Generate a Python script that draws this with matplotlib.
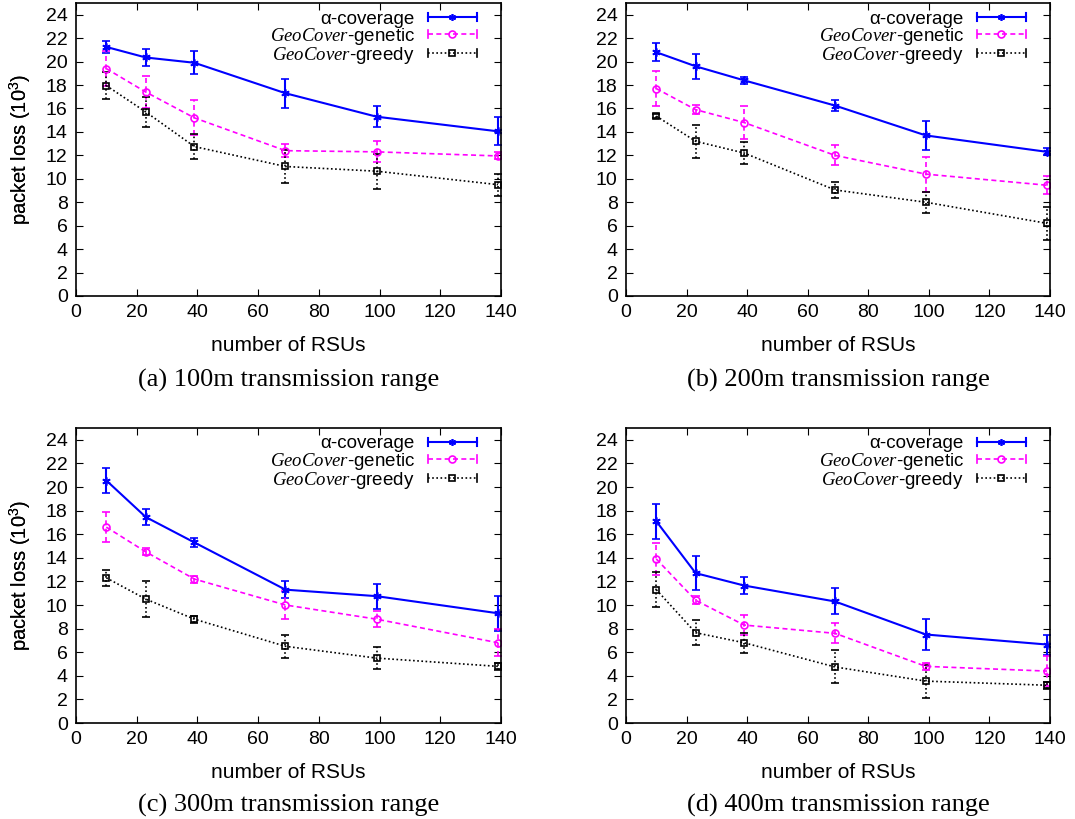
import matplotlib
matplotlib.use('Agg')
import matplotlib.pyplot as plt
from matplotlib.lines import Line2D
from matplotlib.legend_handler import HandlerLine2D

plt.rcParams['font.family'] = ['Liberation Sans', 'DejaVu Sans']
plt.rcParams['mathtext.fontset'] = 'custom'
plt.rcParams['mathtext.it'] = 'Liberation Serif:italic'
plt.rcParams['mathtext.rm'] = 'Liberation Sans'

rsus = [10, 23, 39, 69, 99, 139]

# (mean, error) per panel, values in 10^3
alpha_mean = [
    [21.25, 20.35, 19.9, 17.3, 15.3, 14.05],
    [20.8, 19.6, 18.4, 16.25, 13.7, 12.3],
    [20.55, 17.45, 15.3, 11.3, 10.75, 9.3],
    [17.1, 12.7, 11.65, 10.3, 7.5, 6.65],
]
alpha_err = [
    [0.5, 0.7, 1.0, 1.25, 0.9, 1.2],
    [0.75, 1.05, 0.3, 0.45, 1.2, 0.3],
    [1.05, 0.7, 0.35, 0.7, 1.05, 1.5],
    [1.5, 1.45, 0.75, 1.1, 1.35, 0.85],
]
genetic_mean = [
    [19.4, 17.4, 15.2, 12.4, 12.3, 11.95],
    [17.7, 15.9, 14.8, 12.0, 10.4, 9.45],
    [16.6, 14.5, 12.2, 10.0, 8.8, 6.8],
    [13.9, 10.4, 8.3, 7.6, 4.8, 4.4],
]
genetic_err = [
    [1.5, 1.4, 1.5, 0.55, 0.9, 0.3],
    [1.5, 0.4, 1.4, 0.85, 1.5, 0.75],
    [1.3, 0.3, 0.3, 1.2, 0.7, 1.15],
    [1.35, 0.35, 0.85, 0.85, 0.3, 1.3],
]
greedy_mean = [
    [17.95, 15.7, 12.75, 11.05, 10.65, 9.5],
    [15.35, 13.2, 12.2, 9.05, 8.0, 6.2],
    [12.3, 10.5, 8.8, 6.5, 5.5, 4.8],
    [11.3, 7.65, 6.8, 4.75, 3.55, 3.2],
]
greedy_err = [
    [1.15, 1.3, 1.05, 1.4, 1.5, 0.95],
    [0.2, 1.4, 0.95, 0.7, 0.9, 1.4],
    [0.7, 1.5, 0.3, 1.0, 0.95, 0.3],
    [1.5, 1.05, 0.85, 1.4, 1.4, 0.3],
]
captions = ['(a) 100m transmission range', '(b) 200m transmission range',
            '(c) 300m transmission range', '(d) 400m transmission range']

labels = [u'\u03b1-coverage', r'$\mathit{GeoCover}$-genetic', r'$\mathit{GeoCover}$-greedy']
colors = ['#0000ff', '#ff00ff', '#000000']
styles = ['-', (0, (3, 2)), (0, (1, 1.5))]
markers = [(6, 2, 0), 'o', 's']
widths = [1.5, 1.2, 1.2]


class CapHandler(HandlerLine2D):
    # gnuplot-like key sample: line with error caps at both ends
    def create_artists(self, legend, orig_handle, xdescent, ydescent, width, height,
                       fontsize, trans):
        arts = super().create_artists(legend, orig_handle, xdescent, ydescent, width,
                                      height, fontsize, trans)
        yc = (height - ydescent) / 2.0
        for x in (-xdescent, width - xdescent):
            cap = Line2D([x, x], [yc - 3, yc + 3], color=orig_handle.get_color(),
                         lw=orig_handle.get_linewidth(), transform=trans)
            arts.append(cap)
        return arts


W, H = 1075, 819
fig = plt.figure(figsize=(W / 100, H / 100), dpi=100)

# pixel boxes: left, top, right, bottom
boxes = [(76, 3, 501, 296), (626, 3, 1050, 296),
         (76, 428, 501, 723), (626, 428, 1050, 723)]
cap_y = [380, 380, 805, 805]

for i, (l, t, r, b) in enumerate(boxes):
    ax = fig.add_axes([l / W, 1 - b / H, (r - l) / W, (b - t) / H])
    hpx = b - t
    wpx = r - l
    series = [(alpha_mean[i], alpha_err[i]),
              (genetic_mean[i], genetic_err[i]),
              (greedy_mean[i], greedy_err[i])]
    for k, (m, e) in enumerate(series):
        line, caps, bars = ax.errorbar(rsus, m, yerr=e, color=colors[k], ls=styles[k],
                                       lw=widths[k], marker=markers[k], ms=6 if k == 0 else 5,
                                       mfc='none' if k > 0 else colors[k], mew=1.2,
                                       capsize=3, capthick=1.2, elinewidth=widths[k])
        for bc in bars:
            bc.set_linestyle(styles[k])
    ax.set_xlim(0, 140)
    ax.set_ylim(0, 25)
    ax.set_xticks(range(0, 141, 20))
    ax.set_yticks(range(0, 25, 2))
    ax.tick_params(direction='in', top=True, right=True, labelsize=14, length=5, pad=6)
    for s in ax.spines.values():
        s.set_linewidth(1.2)
    ax.set_xlabel('number of RSUs', fontsize=15)
    ax.set_ylabel('packet loss (10$^3$)', fontsize=14.5)
    ax.xaxis.set_label_coords(0.5, -40 / hpx)
    ax.yaxis.set_label_coords(-(l - 33) / wpx, 0.5)

    handles = [Line2D([], [], color=colors[k], ls=styles[k], lw=widths[k], marker=markers[k],
                      ms=5, mfc='none' if k > 0 else colors[k], mew=1.2) for k in range(3)]
    ax.legend(handles, labels, loc='upper right', frameon=False, markerfirst=False,
              fontsize=13.5, handlelength=2.6, labelspacing=-0.1, borderaxespad=0.3,
              borderpad=0.2, handletextpad=0.7,
              bbox_to_anchor=(1 - 15 / wpx, 1 + 2 / hpx),
              handler_map={Line2D: CapHandler()})

    fig.text((l + r) / 2 / W, 1 - cap_y[i] / H, captions[i], ha='center', va='center',
             fontsize=19, family='Liberation Serif')

fig.savefig('out.png', dpi=100)
